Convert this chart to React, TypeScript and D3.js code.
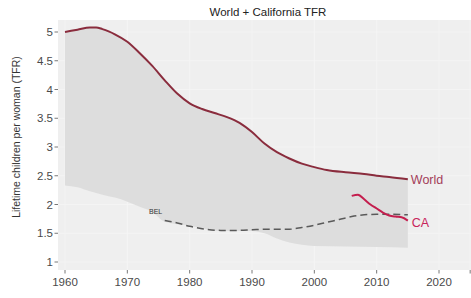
import React from 'react';
import * as d3 from 'd3';

// World TFR
const worldYears = [1960, 1962, 1964, 1965, 1966, 1967, 1968, 1970, 1972, 1974, 1976, 1978, 1980, 1982, 1984, 1986, 1988, 1990, 1992, 1994, 1996, 1998, 2000, 2002, 2005, 2008, 2010, 2012, 2015];
const worldTfr = [5.0, 5.04, 5.08, 5.08, 5.05, 5.01, 4.96, 4.83, 4.63, 4.41, 4.16, 3.93, 3.76, 3.66, 3.59, 3.52, 3.42, 3.26, 3.06, 2.91, 2.8, 2.71, 2.65, 2.6, 2.56, 2.53, 2.5, 2.48, 2.44];

// lowest national TFR (bottom edge of the grey band)
const minYears = [1960, 1962, 1964, 1966, 1968, 1970, 1972, 1974, 1976, 1980, 1985, 1990, 1992, 1994, 1996, 1998, 2000, 2005, 2010, 2015];
const minTfr = [2.33, 2.3, 2.23, 2.17, 2.12, 2.05, 1.96, 1.87, 1.7, 1.63, 1.54, 1.54, 1.5, 1.41, 1.34, 1.3, 1.28, 1.27, 1.26, 1.25];

// Belgium
const belYears = [1976, 1978, 1980, 1982, 1985, 1988, 1990, 1993, 1996, 1998, 2000, 2002, 2004, 2006, 2008, 2010, 2012, 2015];
const belTfr = [1.72, 1.68, 1.62, 1.58, 1.55, 1.55, 1.56, 1.57, 1.57, 1.6, 1.64, 1.69, 1.74, 1.79, 1.82, 1.83, 1.83, 1.82];

// California
const caYears = [2006, 2007, 2008, 2009, 2010, 2011, 2012, 2013, 2014, 2015];
const caTfr = [2.15, 2.17, 2.09, 2.0, 1.93, 1.86, 1.81, 1.79, 1.78, 1.72];

const xTicks = [1960, 1970, 1980, 1990, 2000, 2010, 2020, 2025];
const yTicks = [1, 1.5, 2, 2.5, 3, 3.5, 4, 4.5, 5];

const W = 471;
const H = 298;
const panel = { left: 58, top: 20, right: 480, bottom: 270 };

const x = d3.scaleLinear().domain([1960, 2020]).range([65, 439]);
const y = d3.scaleLinear().domain([1, 5]).range([262, 32]);

const font = '"Liberation Sans", Arial, sans-serif';

export default function App() {
  const world = worldYears.map((yr, i) => [yr, worldTfr[i]] as [number, number]);
  const mins = minYears.map((yr, i) => [yr, minTfr[i]] as [number, number]);
  const bel = belYears.map((yr, i) => [yr, belTfr[i]] as [number, number]);
  const ca = caYears.map((yr, i) => [yr, caTfr[i]] as [number, number]);

  const line = d3.line<[number, number]>()
    .x(d => x(d[0]))
    .y(d => y(d[1]))
    .curve(d3.curveMonotoneX);

  // band: world on top, minimum below
  const topPath = line(world) || '';
  const lowRev = line([...mins].reverse()) || '';
  const bandPath = topPath + 'L' + lowRev.slice(1) + 'Z';

  const last = world[world.length - 1];
  const caLast = ca[ca.length - 1];

  return (
    <svg width={W} height={H} style={{ position: 'absolute', left: 0, top: 0, background: '#fff' }}>
      <rect x={panel.left} y={panel.top} width={panel.right - panel.left} height={panel.bottom - panel.top} fill="#efefef" />
      {xTicks.map(t => (
        <line key={'gx' + t} x1={x(t)} x2={x(t)} y1={panel.top} y2={panel.bottom} stroke="#f5f5f5" strokeWidth={0.8} />
      ))}
      {yTicks.map(t => (
        <line key={'gy' + t} x1={panel.left} x2={panel.right} y1={y(t)} y2={y(t)} stroke="#f5f5f5" strokeWidth={0.8} />
      ))}
      <path d={bandPath} fill="#dddddd" />
      <path d={line(bel) || ''} fill="none" stroke="#5a5a5a" strokeWidth={1.5} strokeDasharray="7,4" />
      <text x={x(1975.6)} y={y(1.84)} fontFamily={font} fontSize={7} fill="#333" textAnchor="end">BEL</text>
      <path d={topPath} fill="none" stroke="#8a2c3d" strokeWidth={2} />
      <path d={line(ca) || ''} fill="none" stroke="#c41e4e" strokeWidth={2} />
      <text x={x(last[0]) + 3} y={y(last[1]) + 4.5} fontFamily={font} fontSize={12.5} fill="#a3405a">World</text>
      <text x={x(caLast[0]) + 4} y={y(caLast[1]) + 6} fontFamily={font} fontSize={12.5} fill="#c8245a">CA</text>

      {yTicks.map(t => (
        <g key={'ty' + t}>
          <line x1={panel.left - 3.5} x2={panel.left} y1={y(t)} y2={y(t)} stroke="#555" strokeWidth={0.8} />
          <text x={panel.left - 5} y={y(t) + 4} textAnchor="end" fontFamily={font} fontSize={11.5} fill="#4a4a4a">{d3.format('~g')(t)}</text>
        </g>
      ))}
      {xTicks.map(t => (
        <g key={'tx' + t}>
          <line x1={x(t)} x2={x(t)} y1={panel.bottom} y2={panel.bottom + 3.5} stroke="#555" strokeWidth={0.8} />
          {t <= 2020 && (
            <text x={x(t)} y={panel.bottom + 16} textAnchor="middle" fontFamily={font} fontSize={11.5} fill="#4a4a4a">{t}</text>
          )}
        </g>
      ))}
      <text x={268} y={16} textAnchor="middle" fontFamily={font} fontSize={11.5} fill="#222">World + California TFR</text>
      <text transform="translate(20,137) rotate(-90)" textAnchor="middle" fontFamily={font} fontSize={10.5} fill="#333">Lifetime children per woman (TFR)</text>
    </svg>
  );
}
